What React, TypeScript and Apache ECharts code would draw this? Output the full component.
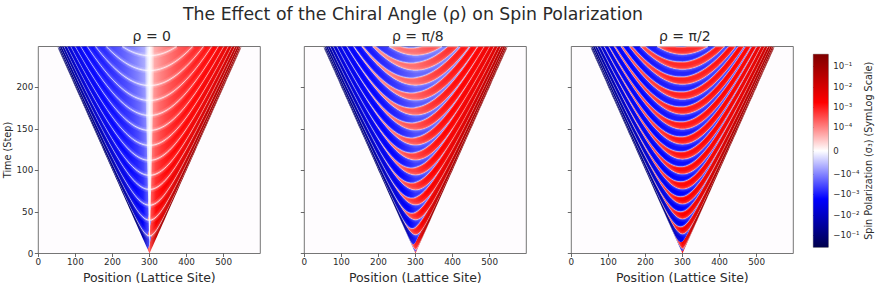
import React, { useEffect, useRef } from "react";
import * as echarts from "echarts";

const mainTitle = "The Effect of the Chiral Angle (ρ) on Spin Polarization";
const panelTitles = ["ρ = 0", "ρ = π/8", "ρ = π/2"];
const xLabel = "Position (Lattice Site)";
const yLabel = "Time (Step)";
const cbLabel = "Spin Polarization (σ₃) (SymLog Scale)";
const xTicks = [0, 100, 200, 300, 400, 500];
const yTicks = [0, 50, 100, 150, 200];

// Apex times (at site 300) of the nodal curves.
const nodes0 = [0, 21, 40, 58, 77, 94, 112, 130, 148, 166, 184, 202, 220, 238, 256];
const nodes1 = [0, 4.5, 22.5, 40.5, 58.5, 76.5, 94.5, 112.5, 130.5, 148.5, 166.5, 184.5, 202.5, 220.5, 238.5, 256.5];
const nodes2 = [0, 5.5, 23.5, 41.5, 59.5, 77.5, 95.5, 113.5, 131.5, 149.5, 167.5, 185.5, 203.5, 221.5, 239.5, 257.5];

// Relative speed (distance from centre / time) at which readings were taken.
const speedStops = [0, 0.15, 0.3, 0.5, 0.7, 0.85, 0.95, 1];
const apexKnots = [20, 110, 230];

// Colourbar position (0 white, .5 pure hue, 1 darkest) at those speeds, for low, mid, late apex.
const shade0 = [
  [0.34, 0.46, 0.5, 0.53, 0.6, 0.7, 0.85, 0.95],
  [0.22, 0.36, 0.42, 0.47, 0.52, 0.6, 0.74, 0.9],
  [0.12, 0.23, 0.31, 0.4, 0.48, 0.55, 0.64, 0.85],
];
const shade1 = [
  [0.44, 0.48, 0.5, 0.54, 0.6, 0.7, 0.85, 0.95],
  [0.37, 0.41, 0.45, 0.49, 0.53, 0.6, 0.75, 0.9],
  [0.28, 0.33, 0.38, 0.45, 0.5, 0.56, 0.66, 0.85],
];
const shade2 = [
  [0.52, 0.52, 0.53, 0.56, 0.6, 0.7, 0.85, 0.95],
  [0.47, 0.47, 0.48, 0.5, 0.53, 0.6, 0.75, 0.9],
  [0.42, 0.42, 0.44, 0.48, 0.5, 0.56, 0.66, 0.85],
];
// Strength of the opposite-sign band on the side where it is the minority.
const minorShade = [1, 1, 0.95, 0.9, 0.8, 0.6, 0.4, 0.3];

// Share of one fringe period that is positive, on the right-hand side.
const fracStops = [0, 0.02, 0.2, 0.4, 0.6, 0.75, 0.9, 1];
const frac0 = [0.5, 1, 1, 1, 1, 1, 1, 1];
const frac1 = [0.5, 0.52, 0.62, 0.74, 0.88, 1, 1, 1];
const frac2 = [0.5, 0.5, 0.56, 0.63, 0.72, 0.84, 1, 1];

// How white the nodal lines and their soft halos stay, by speed.
const nodeAlpha = [0.85, 0.85, 0.85, 0.8, 0.65, 0.4, 0.15, 0.08];
const haloAlpha = [1, 1, 0.9, 0.55, 0.25, 0.08, 0, 0];

// Colourbar
const cbTicks = [-4.15, -3.15, -2.15, -1.15, 0, 1.15, 2.15, 3.15, 4.15];
const cbTickLabels = ["−10⁻¹", "−10⁻²", "−10⁻³", "−10⁻⁴", "0", "10⁻⁴", "10⁻³", "10⁻²", "10⁻¹"];

const tMax = 249;
const panels = [
  { nodes: nodes0, shade: shade0, frac: frac0 },
  { nodes: nodes1, shade: shade1, frac: frac1 },
  { nodes: nodes2, shade: shade2, frac: frac2 },
];

function lerpTable(stops: number[], vals: number[], u: number) {
  if (u <= stops[0]) return vals[0];
  for (let i = 1; i < stops.length; i++) {
    if (u <= stops[i]) {
      const w = (u - stops[i - 1]) / (stops[i] - stops[i - 1]);
      return vals[i - 1] + w * (vals[i] - vals[i - 1]);
    }
  }
  return vals[vals.length - 1];
}

function shadeAt(table: number[][], apex: number, u: number) {
  const rows = table.map((r) => lerpTable(speedStops, r, u));
  return lerpTable(apexKnots, rows, apex);
}

function seismic(p: number, positive: boolean) {
  const q = Math.max(0, Math.min(1, p));
  let main, other;
  if (q <= 0.5) {
    main = 255;
    other = Math.round(255 * (1 - q / 0.5));
  } else {
    main = Math.round(255 - ((q - 0.5) / 0.5) * (positive ? 128 : 179));
    other = 0;
  }
  return positive ? `rgb(${main},${other},${other})` : `rgb(${other},${other},${main})`;
}

const grad = (x1: number, x2: number, y: number, stops: any[]) =>
  new echarts.graphic.LinearGradient(x1, y, x2, y, stops, true);

function renderBands(pIdx: number) {
  const cfg = panels[pIdx];
  return (_: any, api: any) => {
    const lo = api.value(0);
    const hi = api.value(1);
    if (lo >= tMax) return { type: "group", children: [] };
    const am = Math.max((lo + hi) / 2, 1);
    const xm = Math.sqrt(tMax * tMax - lo * lo);
    const uOf = (x: number) => Math.abs(x) / Math.sqrt(am * am + x * x);
    const f = (x: number) => {
      const r = lerpTable(fracStops, cfg.frac, uOf(x));
      return x === 0 ? 0.5 : x > 0 ? r : 1 - r;
    };
    const xs: number[] = [];
    const n = 50;
    for (let i = -n; i <= n; i++) xs.push((xm * i) / n);
    const P = (x: number, a: number) => {
      const t = Math.min(tMax, Math.sqrt(a * a + x * x));
      return api.coord([300 + x, t]);
    };
    const lower = xs.map((x) => P(x, lo));
    const mid = xs.map((x) => P(x, lo + f(x) * (hi - lo)));
    const upper = xs.map((x) => P(x, hi));
    const pxL = api.coord([300 - xm, 0])[0];
    const pxR = api.coord([300 + xm, 0])[0];
    const stopsFor = (fn: (x: number) => string) => {
      const out: any[] = [];
      for (let i = -14; i <= 14; i++) {
        const x = (xm * i) / 14;
        out.push({ offset: (i + 14) / 28, color: fn(x) });
      }
      return out;
    };
    const major = (x: number) => shadeAt(cfg.shade, am, uOf(x));
    const minor = (x: number) =>
      shadeAt(cfg.shade, am, 0) * lerpTable(speedStops, minorShade, uOf(x));
    const redFill = grad(pxL, pxR, 0, stopsFor((x) => seismic(x >= 0 ? major(x) : minor(x), true)));
    const blueFill = grad(pxL, pxR, 0, stopsFor((x) => seismic(x <= 0 ? major(x) : minor(x), false)));
    const lineStroke = (k: number) =>
      grad(pxL, pxR, 0, stopsFor((x) => `rgba(255,250,255,${k * lerpTable(speedStops, nodeAlpha, uOf(x))})`));
    const haloStroke = (k: number) =>
      grad(pxL, pxR, 0, stopsFor((x) => `rgba(255,250,255,${k * lerpTable(speedStops, haloAlpha, uOf(x))})`));
    const children: any[] = [
      {
        type: "polygon",
        shape: { points: lower.concat(mid.slice().reverse()) },
        style: { fill: redFill },
      },
      {
        type: "polygon",
        shape: { points: mid.concat(upper.slice().reverse()) },
        style: { fill: blueFill },
      },
    ];
    const nodeK = pIdx === 0 ? 1 : 0.6;
    if (lo > 0) {
      children.push(
        { type: "polyline", shape: { points: lower }, style: { fill: "none", stroke: haloStroke(0.14 * nodeK), lineWidth: 5.5 } },
        { type: "polyline", shape: { points: lower }, style: { fill: "none", stroke: haloStroke(0.28 * nodeK), lineWidth: 2.6 } },
        { type: "polyline", shape: { points: lower }, style: { fill: "none", stroke: lineStroke(0.95 * nodeK), lineWidth: 0.8 } }
      );
    }
    if (pIdx > 0 && lo > 5.5) {
      children.push(
        { type: "polyline", shape: { points: mid }, style: { fill: "none", stroke: haloStroke(0.2), lineWidth: 2.4 } },
        { type: "polyline", shape: { points: mid }, style: { fill: "none", stroke: lineStroke(0.55), lineWidth: 0.8 } }
      );
    }
    return { type: "group", children };
  };
}

// White wedge down the centre of the first panel.
function renderWedge(_: any, api: any) {
  const w = api.value(0);
  const t = api.value(1);
  const apexPt = api.coord([300, 0]);
  const l = api.coord([300 - w, t]);
  const r = api.coord([300 + w, t]);
  return {
    type: "polygon",
    shape: { points: [apexPt, l, r] },
    style: {
      fill: grad(l[0], r[0], 0, [
        { offset: 0, color: "rgba(255,255,255,0)" },
        { offset: 0.3, color: "rgba(255,255,255,0.7)" },
        { offset: 0.5, color: "rgba(255,255,255,0.95)" },
        { offset: 0.7, color: "rgba(255,255,255,0.7)" },
        { offset: 1, color: "rgba(255,255,255,0)" },
      ]),
    },
  };
}

function renderCb(_: any, api: any) {
  const a = api.coord([0, api.value(0)]);
  const b = api.coord([1, api.value(1)]);
  return {
    type: "rect",
    shape: { x: a[0], y: b[1], width: b[0] - a[0], height: a[1] - b[1] },
    style: {
      fill: new echarts.graphic.LinearGradient(0, 0, 0, 1, [
        { offset: 0, color: "rgb(127,0,0)" },
        { offset: 0.25, color: "rgb(255,0,0)" },
        { offset: 0.5, color: "rgb(255,255,255)" },
        { offset: 0.75, color: "rgb(0,0,255)" },
        { offset: 1, color: "rgb(0,0,76)" },
      ]),
    },
  };
}

const gridLefts = [38.3, 304.3, 571.3];
const gridWidth = 222;
const FONT = "DejaVu Sans";
const INK = "#2a2a2a";

export default function App() {
  const ref = useRef<HTMLDivElement>(null);
  useEffect(() => {
    const chart = echarts.init(ref.current!, undefined, { renderer: "svg" });
    const axisLine = { show: false };
    const grids: any[] = gridLefts.map((left) => ({
      left,
      top: 46.5,
      width: gridWidth,
      height: 207,
      show: true,
      backgroundColor: "#fefcfe",
      borderColor: "#666",
      borderWidth: 0.9,
      outerBoundsMode: "none",
    }));
    grids.push({ left: 813.3, top: 54.3, width: 15, height: 193, show: true, backgroundColor: "#fff", borderColor: "#777", borderWidth: 0.8, outerBoundsMode: "none" });

    const xAxes: any[] = gridLefts.map((_, i) => ({
      type: "value",
      gridIndex: i,
      min: 0,
      max: 599,
      splitLine: { show: false },
      axisLine,
      axisTick: { length: 3.5, customValues: xTicks, lineStyle: { color: "#444", width: 0.8 } },
      axisLabel: { customValues: xTicks, fontFamily: FONT, fontSize: 8.8, color: INK, margin: 4 },
      name: xLabel,
      nameLocation: "middle",
      nameGap: 14.5,
      nameTextStyle: { fontFamily: FONT, fontSize: 12.5, color: INK },
    }));
    xAxes.push({ type: "value", gridIndex: 3, min: 0, max: 1, show: false });

    const yAxes: any[] = gridLefts.map((_, i) => ({
      type: "value",
      gridIndex: i,
      min: 0,
      max: tMax,
      splitLine: { show: false },
      axisLine,
      axisTick: { length: 3.5, customValues: yTicks, lineStyle: { color: "#444", width: 0.8 } },
      axisLabel: { show: i === 0, customValues: yTicks, fontFamily: FONT, fontSize: 8.8, color: INK, margin: 5 },
      name: i === 0 ? yLabel : "",
      nameLocation: "middle",
      nameGap: 24,
      nameTextStyle: { fontFamily: FONT, fontSize: 9.7, color: INK },
    }));
    yAxes.push({
      type: "value",
      gridIndex: 3,
      position: "right",
      min: -4.75,
      max: 4.75,
      splitLine: { show: false },
      axisLine,
      axisTick: { length: 3.5, customValues: cbTicks, lineStyle: { color: "#444", width: 0.8 } },
      axisLabel: {
        customValues: cbTicks,
        fontFamily: FONT,
        fontSize: 8.6,
        color: INK,
        margin: 5,
        formatter: (v: number) => cbTickLabels[cbTicks.indexOf(v)] ?? "",
      },
      name: cbLabel,
      nameLocation: "middle",
      nameGap: 35,
      nameRotate: 90,
      nameTextStyle: { fontFamily: FONT, fontSize: 9.6, color: INK },
    });

    const pairs = (arr: number[]) => arr.slice(0, -1).map((v, i) => [v, arr[i + 1]]);
    const series: any[] = panels.map((p, i) => ({
      type: "custom",
      xAxisIndex: i,
      yAxisIndex: i,
      coordinateSystem: "cartesian2d",
      renderItem: renderBands(i),
      data: pairs(p.nodes),
      silent: true,
      encode: { x: 0, y: 1 },
    }));
    series.push({
      type: "custom",
      xAxisIndex: 0,
      yAxisIndex: 0,
      coordinateSystem: "cartesian2d",
      renderItem: renderWedge,
      data: [[14, tMax]],
      silent: true,
      encode: { x: 0, y: 1 },
    });
    series.push({
      type: "custom",
      xAxisIndex: 3,
      yAxisIndex: 3,
      coordinateSystem: "cartesian2d",
      renderItem: renderCb,
      data: [[-4.75, 4.75]],
      silent: true,
      encode: { y: [0, 1] },
    });

    const centres = gridLefts.map((l) => l + gridWidth / 2 - 2.5);
    chart.setOption({
      animation: false,
      backgroundColor: "#fff",
      title: [
        {
          text: mainTitle,
          left: 408,
          top: 0,
          textAlign: "center",
          textStyle: { fontFamily: FONT, fontSize: 17.3, fontWeight: "normal", color: INK },
        },
        ...panelTitles.map((text, i) => ({
          text,
          left: centres[i],
          top: 24,
          textAlign: "center",
          textStyle: { fontFamily: FONT, fontSize: 14, fontWeight: "normal", color: INK },
        })),
      ],
      grid: grids,
      xAxis: xAxes,
      yAxis: yAxes,
      series,
    });
    return () => chart.dispose();
  }, []);
  return <div ref={ref} style={{ position: "fixed", left: 0, top: 0, width: 879, height: 286 }} />;
}
